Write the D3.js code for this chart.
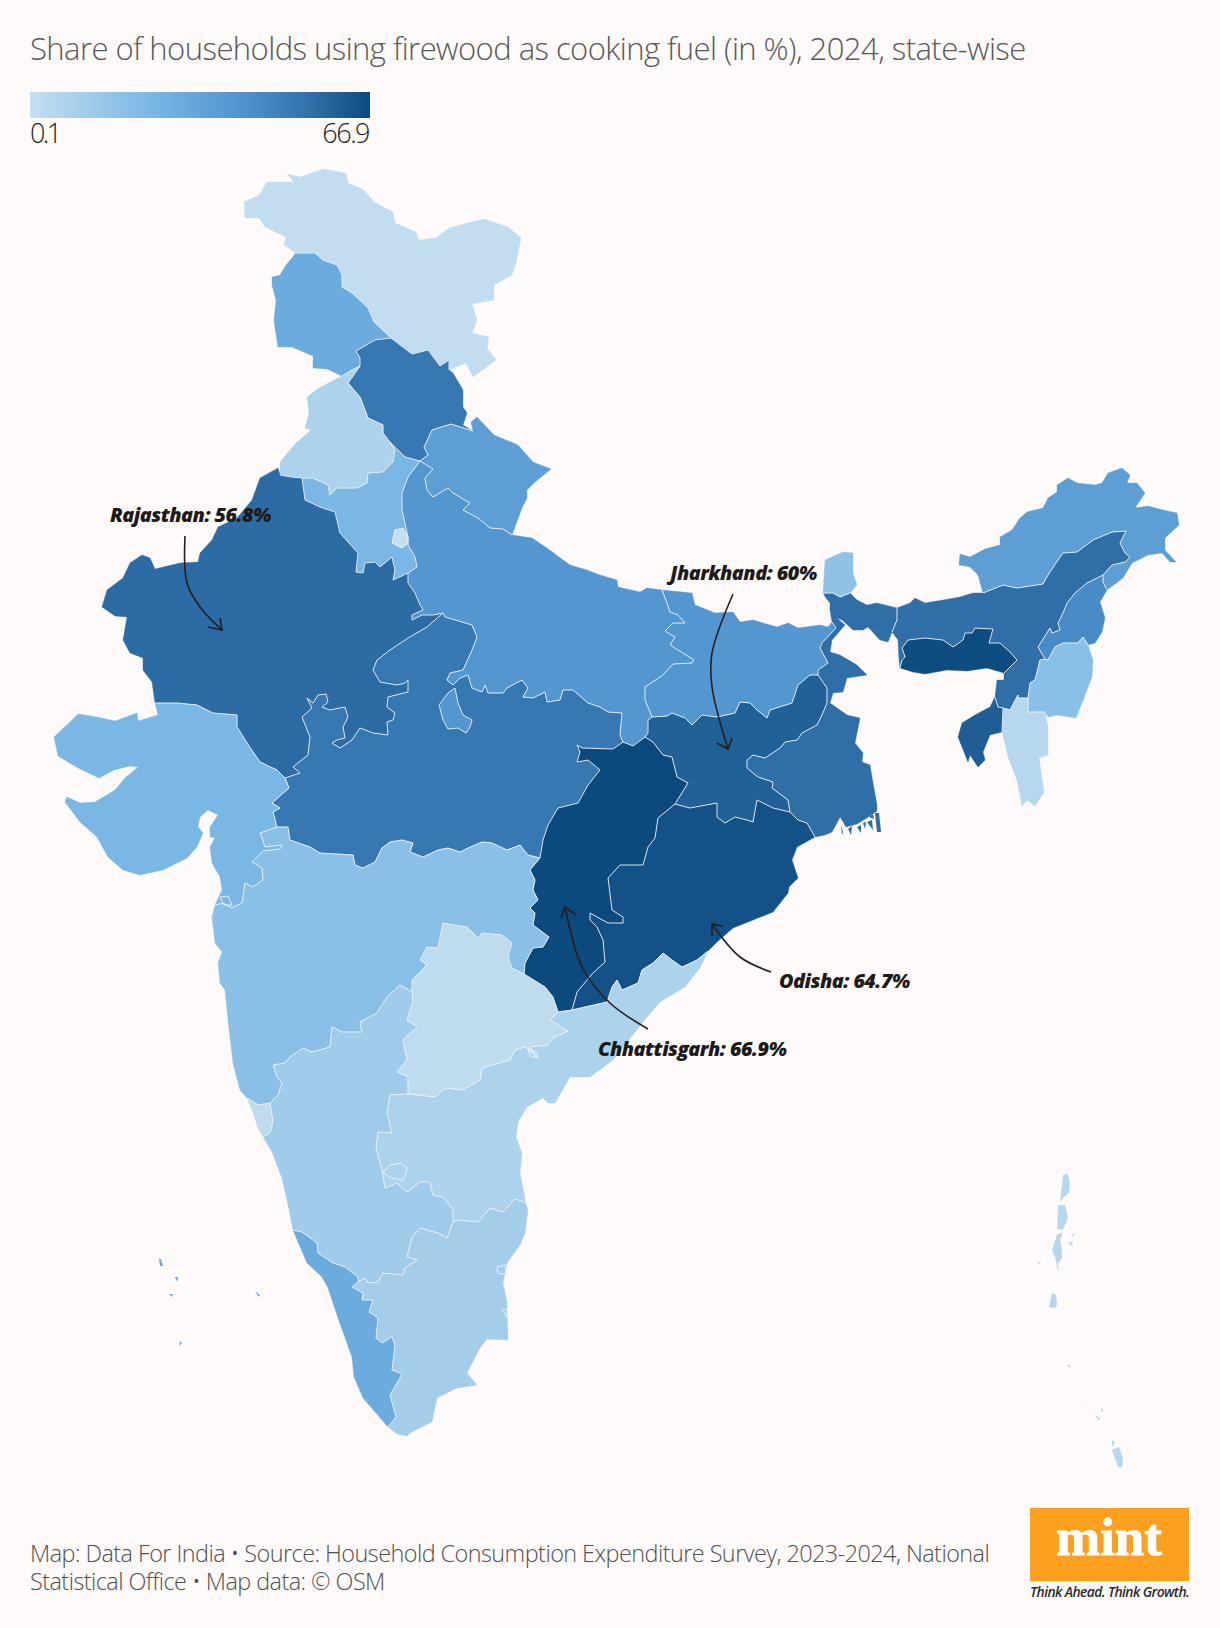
<!DOCTYPE html>
<html><head><meta charset="utf-8">
<script src="https://cdn.jsdelivr.net/npm/d3@7"></script>
<style>html,body{margin:0;padding:0;background:#fffafa}svg{display:block}text{font-family:"Open Sans",sans-serif}</style>
</head><body><svg id="c" width="1220" height="1628"></svg>
<script>
const titleText = "Share of households using firewood as cooking fuel (in %), 2024, state-wise";
const footerLines = ["Map: Data For India • Source: Household Consumption Expenditure Survey, 2023-2024, National","Statistical Office • Map data: © OSM"];
const legendDomain = [0.1, 25, 43, 56, 66.9];
const legendColors = ["#c5dfef","#77b5e4","#4d90cc","#2f6ea6","#0c4a7e"];
const legendLabels = ["0.1","66.9"];

const stateNames = ["Ladakh","Jammu & Kashmir","Himachal Pradesh","Punjab","Haryana","Uttarakhand","Madhya Pradesh","Uttar Pradesh","Rajasthan","Gujarat","Chhattisgarh","Jharkhand","Bihar","West Bengal","Sikkim","Odisha","Andhra Pradesh","Telangana","Maharashtra","Goa","Karnataka","Tamil Nadu","Kerala","Assam","Arunachal Pradesh","Nagaland","Manipur","Mizoram","Tripura","Meghalaya"];
const stateValues = [1,30,52,8,24,36,52,40,56.8,24,66.9,60,40,56,17,64.7,8,2,19,2,12,10.5,30,56,36,45,19,5,61,66];

// Outlines, in map units; shared borders are kept once.
const borders = {
la_outer:"296,253 284,245 286,237 265,227 259,218 245,218 244,202 259,195 267,182 294,182 287,174 300,177 323,169 346,173 348,183 364,190 374,202 393,212 395,223 416,232 419,240 436,238 449,228 467,223 484,219 508,227 521,238 516,263 512,275 494,285 494,300 472,304 477,320 472,333 489,337 487,348 496,360 473,377 466,363 449,370",
hp_la:"449,370 449,360 440,366 428,350 412,354 391,338",
la_jk:"391,338 374,322 368,308 352,293 342,287 342,275 337,265 323,260 315,253 296,253",
jk_outer:"296,253 286,265 280,275 272,277 272,285 276,300 274,320 275,328 278,347 292,347 313,356 313,368 327,369 342,376",
jk_pb:"342,376 352,370 360,366",
hp_jk:"360,366 360,358 356,351 375,340 391,338",
hp_outer:"449,370 453,373 463,390 463,407 467,413 463,425 473,431",
hp_uk:"473,431 451,424 432,430 424,447 428,455 420,461",
hp_hr:"420,461 405,457 389,441",
hp_pb:"389,441 383,433 383,425 368,418 360,397 348,383 360,366",
pb_outer:"342,376 319,388 307,397 309,413 305,428 311,430 296,443 280,462 280,475",
pb_rj:"280,475 291,477 302,478",
pb_hr:"302,478 313,478 328,485 330,495 337,488 357,488 367,483 368,473 383,472 393,462 395,450 389,441",
hr_rj:"302,478 305,500 320,507 335,512 340,533 358,553 356,572 363,573 365,563 375,562 380,567 392,557 395,570 393,580 408,573",
hr_up:"408,573 417,567 415,557 408,545 408,537 402,510 402,493 408,477 420,461",
uk_outer:"473,431 471,422 477,417 494,435 518,445 533,462 551,469 535,482 527,490 527,498 522,508 515,527 512,535",
uk_up:"512,535 503,529 490,528 478,518 463,510 470,503 453,493 448,488 433,497 427,490 425,478 433,469 420,461",
up_outer:"512,535 532,538 547,548 563,560 570,565 587,570 600,575 617,580 618,587 640,592 647,588 662,590",
up_br:"662,590 667,603 670,612 678,615 685,623 673,623 665,631 675,637 670,645 683,653 694,660 692,663 673,664 663,675 645,687 645,700 652,717",
jh_up:"652,717 648,720 648,733 645,737",
up_ch:"645,737 633,746 623,742",
up_mp:"623,742 620,735 622,713 608,712 600,707 588,703 573,690 563,690 560,700 547,702 545,692 533,698 523,697 528,688 522,680 507,688 503,693 488,693 485,685 482,692 472,688 468,675 460,678 453,685 447,680 450,673 463,670 472,650 477,637 472,625 462,622 445,617 443,613",
rj_up:"443,613 433,615 422,615 412,620 412,615 423,610 420,605 415,593 408,583 408,573",
rj_outer:"280,475 278,468 260,478 252,500 237,518 218,527 212,540 200,553 198,562 180,563 155,569 150,558 142,555 130,563 123,578 107,590 102,607 115,616 127,617 123,640 130,653 143,658 143,670 152,682 155,703",
rj_gj:"155,703 177,703 197,705 213,713 237,715 237,727 247,743 260,762 277,770 285,778",
mp_rj:"285,778 300,773 293,767 308,755 310,737 302,717 312,708 307,698 313,703 318,695 326,694 328,702 322,707 330,710 345,707 348,717 343,727 345,738 337,740 332,743 340,748 352,740 360,728 373,733 388,735 387,722 393,720 395,713 387,707 388,697 408,692 408,680 405,683 397,685 380,682 373,670 377,660 390,650 408,638 427,627 443,613",
gj_outer:"155,703 158,715 138,721 137,713 115,721 97,717 78,714 70,722 54,737 58,756 78,768 99,778 114,770 130,766 138,767 125,778 115,790 95,802 80,803 67,797 65,802 80,822 97,837 108,857 123,870 140,875 163,870 187,858 197,847 203,833 198,827 200,817 208,810 218,815 210,827 210,837 215,838 210,847 212,863 220,877 222,890 215,905",
gj_mp:"277,827 273,812 280,808 272,803 289,788 285,778",
gj_mh:"277,827 260,833 262,838 265,847 282,845 280,849 263,851 252,862 262,868 263,880 253,887 245,883 242,903 232,908 223,903 215,905",
mp_ch:"623,742 613,749 582,748 577,745 580,752 577,762 588,760 600,770 588,785 578,803 558,808 548,825 543,840 540,858",
mp_mh:"540,858 528,855 520,845 507,850 492,843 482,842 468,848 460,852 448,848 438,850 423,857 410,852 413,843 402,840 390,842 382,848 375,862 363,868 355,865 353,855 320,853 310,847 290,840 288,827 277,827",
ch_jh:"645,737 653,742 663,755 672,757 677,777 688,783 675,804",
ch_od:"675,804 658,818 655,838 648,847 643,865 620,865 608,878 612,910 623,917 623,923 608,923 590,913 590,920 597,927 603,940 605,962 593,973 577,992 572,1010",
ch_ap:"572,1010 558,1012",
ch_tg:"558,1012 553,997 545,987 524,974",
ch_mh:"524,974 525,963 533,948 543,947 549,937 533,925 535,913 530,908 538,900 533,890 535,880 530,870 540,858",
br_outer:"662,590 692,593 695,605 715,613 733,612 740,622 753,620 777,627 788,623 798,628 820,625 828,627 832,622",
br_wb:"832,622 836,628 822,643 820,648 828,663 818,670 818,675",
br_jh:"818,675 810,675 798,685 792,703 770,710 767,718 757,710 750,703 740,702 735,713 717,717 702,715 692,725 685,718 672,713 667,716 652,717",
jh_wb:"818,675 827,688 827,703 822,715 817,725 802,733 797,740 785,742 780,748 765,758 753,755 747,760 747,768 758,777 773,782 772,788 788,800 790,812",
jh_od:"675,804 690,808 717,803 717,817 725,823 735,817 747,820 753,822 757,800 773,808 790,812",
wb_od:"815,837 807,823 798,820 790,812",
wb_outer1:"832,622 830,610 830,603 826,598 823,593",
sk_wb:"823,593 833,593 840,597 850,593",
sk_outer:"850,593 857,585 853,573 853,553 843,552 825,560 823,593",
wb_outer2:"850,593 857,600 867,605 877,603 897,608",
wb_as:"897,608 897,620 892,632",
wb_outer3:"892,632 888,642 880,640 868,627 863,630 853,630 842,620 837,618 845,625 832,640 830,652 840,655 857,665 867,675 847,678 843,692 833,693 830,703 847,715 860,718 855,743 863,753 862,762 870,765 873,783 877,805 877,811 867,818 857,824 846,827 842,820 840,817 837,823 832,832 825,835 815,837",
od_ap:"572,1010 585,1007 607,1002 612,987 617,980 622,990 638,983 642,970 653,963 663,953 672,960 682,967 697,960 708,951",
od_outer:"708,951 717,942 733,928 753,920 773,912 788,893 789,887 798,878 792,860 797,847 815,837",
ap_outer:"708,951 700,968 685,987 660,1002 643,1022 613,1060 590,1077 570,1077 555,1103 548,1103 543,1098 527,1107 518,1122 516,1137 522,1153 520,1173 525,1198 525,1202",
tn_ap:"525,1202 515,1199 503,1212 490,1208 478,1222 457,1220 453,1222",
tg_ap:"408,1094 435,1097 445,1088 462,1090 480,1080 482,1068 510,1060 515,1050 525,1047 537,1057 530,1047 548,1045 553,1038 568,1031 550,1020 558,1012",
tg_ka:"408,1094 408,1077 397,1072 407,1060 403,1040 417,1027 407,1020 413,1002 412,992",
tg_mh:"412,992 412,980 427,965 420,960 427,947 438,948 443,923 467,927 478,938 482,933 502,935 512,943 508,957 512,968 524,974",
mh_outer:"215,905 212,917 215,943 222,952 218,963 220,983 225,990 228,1020 233,1063 240,1090 247,1098",
mh_goa:"247,1098 258,1105 270,1103",
mh_ka:"270,1103 278,1095 282,1083 277,1077 273,1065 285,1063 290,1057 303,1048 312,1052 330,1047 332,1027 342,1032 362,1032 360,1022 377,1013 387,997 400,985 412,992",
goa_outer:"247,1098 253,1113 258,1128 263,1137",
goa_ka:"263,1137 270,1133 273,1122 270,1103",
ka_outer:"263,1137 272,1152 282,1178 287,1200 293,1230",
ka_kl:"293,1230 302,1232 317,1243 318,1253 333,1263 345,1267 358,1277 358,1282",
ka_tn:"358,1282 365,1278 368,1283 378,1282 383,1273 403,1275 405,1268 417,1260 407,1257 412,1237 420,1228 438,1233 447,1238 453,1222",
ka_ap:"408,1094 390,1095 387,1113 392,1133 378,1132 376,1148 382,1170 385,1188 397,1183 407,1192 420,1182 430,1182 433,1195 443,1197 453,1210 453,1222",
tn_outer:"525,1202 528,1210 525,1233 520,1245 507,1263 503,1283 507,1303 508,1340 487,1339 480,1348 467,1373 477,1385 457,1388 437,1398 432,1422 410,1433 407,1436 397,1434 388,1427",
kl_tn:"388,1427 396,1417 390,1395 402,1374 392,1370 395,1345 392,1337 382,1343 376,1338 378,1318 369,1312 373,1300 362,1300 363,1293 352,1287 358,1282",
kl_outer:"293,1230 307,1263 322,1277 328,1288 338,1318 352,1357 354,1377 363,1398 388,1427",
as_outer1:"897,608 910,603 915,598 925,603 943,600 960,597 973,593 983,593",
as_ar:"983,593 1003,585 1017,588 1043,584 1048,575 1060,557 1063,553 1077,552 1093,540 1112,532 1126,531 1120,543 1125,553 1130,557 1125,562 1112,565 1103,575",
as_ng:"1103,575 1087,583 1075,593 1067,603 1063,613 1058,623 1060,630 1052,633 1050,628 1038,647 1045,659",
as_mn:"1045,659 1040,660 1035,680 1030,683 1028,698",
as_mz:"1028,698 1018,698 1018,695 1010,710 1003,708",
as_tr:"1003,708 998,707 995,697",
as_outer2:"995,697 997,680 1004,680 1004,673",
ml_as:"900,668 902,660 905,657 902,648 908,640 925,638 943,640 953,647 963,640 965,633 972,633 975,628 993,629 989,643 1000,643 1010,652 1017,660 1004,673",
ml_outer:"1004,673 987,668 967,671 947,670 925,674 913,672 900,668",
as_outer3:"900,668 899,660 898,640 892,632",
ar_outer:"983,593 978,575 970,567 959,565 960,554 970,557 985,549 1000,545 1000,537 1012,530 1020,518 1027,512 1043,508 1048,498 1057,492 1057,485 1068,478 1077,483 1095,485 1102,483 1108,473 1122,468 1130,475 1127,483 1137,483 1145,493 1135,508 1148,506 1163,510 1177,513 1179,525 1165,538 1165,550 1176,562 1170,562 1162,553 1148,555 1132,563 1123,578 1107,590",
ar_ng:"1107,590 1103,582 1103,575",
ng_outer:"1107,590 1100,602 1105,618 1102,632 1095,643 1088,645",
ng_mn:"1088,645 1083,637 1078,643 1063,643 1055,647 1048,660 1045,659",
mn_outer:"1088,645 1093,660 1092,677 1082,703 1076,718 1058,715 1048,717 1045,712",
mn_mz:"1045,712 1028,712 1028,698",
mz_outer:"1045,712 1048,727 1048,755 1039,758 1044,792 1035,806 1027,800 1022,806 1017,780 1008,757 1002,732",
mz_tr:"1002,732 1003,708",
tr_outer:"995,697 990,707 975,715 962,723 958,737 968,762 970,755 978,767 985,760 983,752 990,735 1002,732",
lalitpur:"455,688 458,703 463,715 472,720 470,727 466,733 458,728 448,729 443,720 439,705 448,693 455,688",
delhi:"395,530 403,528 408,537 408,543 402,548 392,543 395,530",
pondy:"497,1267 505,1265 507,1275 498,1273 497,1267",
karaikal:"502,1310 507,1309 507,1317 502,1310",
yanam:"528,1048 537,1052 538,1058 530,1056 528,1048",
kolar:"390,1165 400,1163 407,1168 405,1175 403,1180 390,1178 383,1172 390,1165",
dadra:"220,897 228,896 232,905 224,905 220,897"
};

const stateRings = [
"la_outer hp_la la_jk",
"jk_outer jk_pb hp_jk la_jk",
"hp_jk -hp_la hp_outer hp_uk hp_hr hp_pb",
"-jk_pb pb_outer pb_rj pb_hr hp_pb",
"-pb_hr hr_rj hr_up -hp_hr",
"-hp_uk uk_outer uk_up",
"mp_rj -up_mp mp_ch mp_mh gj_mp",
"-uk_up up_outer up_br jh_up up_ch up_mp rj_up hr_up",
"rj_outer rj_gj mp_rj rj_up -hr_rj -pb_rj",
"gj_outer -gj_mh gj_mp -rj_gj",
"-mp_ch -up_ch ch_jh ch_od ch_ap ch_tg ch_mh",
"-jh_up -br_jh jh_wb -jh_od -ch_jh",
"-up_br br_outer br_wb br_jh",
"-br_wb wb_outer1 sk_wb wb_outer2 wb_as wb_outer3 wb_od -jh_wb",
"sk_outer sk_wb",
"ch_od od_ap od_outer wb_od -jh_od",
"ap_outer tn_ap -ka_ap tg_ap -ch_ap od_ap",
"tg_mh -ch_tg -tg_ap tg_ka",
"mh_outer mh_goa mh_ka tg_mh ch_mh mp_mh gj_mh",
"goa_outer goa_ka -mh_goa",
"-mh_ka -goa_ka ka_outer ka_kl ka_tn -ka_ap tg_ka",
"-tn_ap tn_outer kl_tn ka_tn",
"kl_outer kl_tn -ka_kl",
"as_outer1 as_ar as_ng as_mn as_mz as_tr as_outer2 -ml_as as_outer3 -wb_as",
"ar_outer ar_ng -as_ar",
"-as_ng -ar_ng ng_outer ng_mn",
"-ng_mn mn_outer mn_mz -as_mn",
"-mn_mz mz_outer mz_tr -as_mz",
"tr_outer mz_tr as_tr",
"ml_as ml_outer"
];

// Small separate pieces
const extraPieces = [
 {name:"Uttar Pradesh",value:40,key:"lalitpur"},
 {name:"Delhi",value:0.1,key:"delhi"}
];
const andamanValue = 5, lakshadweepValue = 30, westBengalValue = 56, tamilNaduValue = 10.5;
const andamanIslands = ["1063,1175 1068,1174 1070,1183 1069,1193 1063,1198 1060,1202 1060,1187","1058,1205 1065,1205 1068,1218 1065,1225 1063,1230 1057,1229 1057,1215","1057,1235 1063,1232 1060,1240 1062,1250 1062,1258 1057,1265 1055,1257 1052,1250 1055,1243","1056,1265 1058,1265 1059,1271 1055,1271","1055,1200 1057,1208 1054,1207","1072,1235 1074,1233 1074,1237 1071,1239","1068,1242 1072,1242 1073,1247 1071,1245","1037,1263 1040,1262 1041,1265 1038,1266","1052,1293 1056,1295 1057,1305 1055,1308 1049,1307 1047,1300","1066,1365 1070,1365 1071,1368 1067,1368","1084,1402 1086,1405 1088,1407 1085,1407","1102,1406 1103,1412 1101,1412 1100,1408","1095,1415 1100,1418 1099,1421 1096,1419","1103,1414 1106,1417 1104,1417","1112,1440 1115,1442 1112,1447 1109,1445","1112,1450 1119,1447 1123,1458 1122,1467 1118,1467 1112,1458"];
const lakshadweepIslands = ["165,1242 167,1242 166,1246","159,1259 161,1259 163,1266 160,1266 158,1262","175,1277 178,1277 177,1282 175,1282","169,1294 173,1294 172,1297 170,1297","255,1291 260,1295 259,1297 254,1293","180,1341 182,1343 179,1346 177,1345","238,1343 239,1346 237,1345","209,1421 212,1422 210,1424"];
const deltaIslands = ["841,825 843,832 842,835 839,833","848,829 852,826 851,835 847,836","857,827 861,825 861,833 858,837","867,822 872,820 873,830 868,832","875,813 879,813 881,832 877,832 875,822","853,829 856,827 855,833","863,823 866,822 865,829 862,830","870,833 873,835 872,838","869,817 873,814 874,819 870,821","862,832 866,832 865,836","845,832 847,830 847,836"];
const ramSetu = "480,1383 485,1383 488,1388";

const callouts = [
 {text:"Rajasthan: 56.8%",x:110,y:522,path:[[185,536],[187,583],[200,607],[222,630]],head:[[208,627],[222,630],[220,618]]},
 {text:"Jharkhand: 60%",x:670,y:580,path:[[733,594],[712,653],[712,687],[728,749]],head:[[717,743],[728,749],[732,738]]},
 {text:"Odisha: 64.7%",x:779,y:988,path:[[771,972],[740,957],[712,924]],head:[[723,926],[712,924],[712,936]]},
 {text:"Chhattisgarh: 66.9%",x:598,y:1056,path:[[648,1029],[610,1003],[582,967],[565,907]],head:[[576,915],[565,907],[561,918]]}
];

const svg = d3.select("#c");
const bg = "#fffafa";
svg.append("rect").attr("width",1220).attr("height",1628).attr("fill",bg);

const pts = s => s.trim().split(/\s+/).map(p=>p.split(",").map(Number));
const arcOf = Object.fromEntries(Object.entries(borders).map(([k,v])=>[k,pts(v)]));
function ring(spec){
  const out=[];
  spec.trim().split(/\s+/).forEach(tok=>{
    const rev=tok[0]==="-"; const a=arcOf[rev?tok.slice(1):tok];
    const seq=rev?a.slice().reverse():a;
    seq.forEach((p,i)=>{ if(i===0&&out.length) return; out.push(p); });
  });
  return out;
}
const color = d3.scaleLinear().domain(legendDomain).range(legendColors).interpolate(d3.interpolateRgb);
const geo = d3.geoPath(d3.geoIdentity());
const polyFeature = (coords,v)=>({type:"Feature",properties:{v},geometry:{type:"Polygon",coordinates:[coords]}});

const features = stateRings.map((r,i)=>polyFeature(ring(r),stateValues[i]));
const mapG = svg.append("g");
mapG.selectAll("path.state").data(features).join("path").attr("class","state").attr("d",geo).attr("fill",d=>color(d.properties.v)).attr("stroke",d=>color(d.properties.v)).attr("stroke-width",.4);
const pieceFeatures = extraPieces.map(p=>polyFeature(arcOf[p.key],p.value))
 .concat(andamanIslands.map(s=>polyFeature(pts(s),andamanValue)))
 .concat(lakshadweepIslands.map(s=>polyFeature(pts(s),lakshadweepValue)))
 .concat(deltaIslands.map(s=>polyFeature(pts(s),westBengalValue)))
 .concat([polyFeature(pts(ramSetu),tamilNaduValue)]);
mapG.selectAll("path.piece").data(pieceFeatures).join("path").attr("class","piece").attr("d",geo).attr("fill",d=>color(d.properties.v));
const inner = Object.keys(arcOf).filter(k=>!k.includes("outer"));
mapG.selectAll("path.border").data(inner).join("path").attr("class","border")
 .attr("d",k=>geo({type:"LineString",coordinates:arcOf[k]}))
 .attr("fill","none").attr("stroke","#eef4f9").attr("stroke-width",1).attr("stroke-opacity",.9).attr("stroke-linejoin","round");

// Title
svg.append("text").attr("x",30).attr("y",60).text(titleText).attr("font-size",31).attr("font-weight",300).attr("fill","#58595b").attr("letter-spacing",-0.55);

// Legend
const lgX = d3.scaleLinear().domain([0.1,66.9]).range([30,370]);
const grad = svg.append("defs").append("linearGradient").attr("id","lg");
legendDomain.forEach((v,i)=>grad.append("stop").attr("offset",(v-0.1)/66.8).attr("stop-color",legendColors[i]));
svg.append("rect").attr("x",lgX(0.1)).attr("y",92).attr("width",lgX(66.9)-lgX(0.1)).attr("height",26).attr("fill","url(#lg)");
svg.append("text").attr("x",lgX(0.1)).attr("y",143).text(legendLabels[0]).attr("font-size",27).attr("font-weight",300).attr("fill","#231f20").attr("letter-spacing",-2.6);
svg.append("text").attr("x",lgX(66.9)-1).attr("y",143).attr("text-anchor","end").text(legendLabels[1]).attr("font-size",27).attr("font-weight",300).attr("fill","#231f20").attr("letter-spacing",-1.5);

// Callouts
const lineGen = d3.line().curve(d3.curveCatmullRom);
const headGen = d3.line();
callouts.forEach(c=>{
  svg.append("path").attr("d",lineGen(c.path)).attr("fill","none").attr("stroke","#231f20").attr("stroke-width",1.6);
  svg.append("path").attr("d",headGen(c.head)).attr("fill","none").attr("stroke","#231f20").attr("stroke-width",1.6);
  svg.append("text").attr("x",c.x).attr("y",c.y).text(c.text).attr("font-size",19.8).attr("font-weight",800).attr("font-style","italic").attr("fill","#1d1a1a").attr("letter-spacing",-0.5);
});

// Footer
footerLines.forEach((t,i)=>svg.append("text").attr("x",30).attr("y",1562+i*27.5).text(t).attr("font-size",23.4).attr("font-weight",300).attr("fill","#4f5052").attr("letter-spacing",-0.54));

// Logo
svg.append("rect").attr("x",1030).attr("y",1508).attr("width",159).attr("height",73).attr("fill","#fd9f1f");
svg.append("text").attr("x",1109).attr("y",1555).attr("text-anchor","middle").text("mint").style("font-family","'Liberation Serif',serif").attr("font-size",53).attr("font-weight",700).attr("fill","#fff").attr("stroke","#fff").attr("stroke-width",.9);
svg.append("text").attr("x",1030).attr("y",1597).text("Think Ahead. Think Growth.").attr("font-size",13.8).attr("font-weight",600).attr("font-style","italic").attr("fill","#2a2a2a").attr("letter-spacing",-0.55);
</script></body></html>
